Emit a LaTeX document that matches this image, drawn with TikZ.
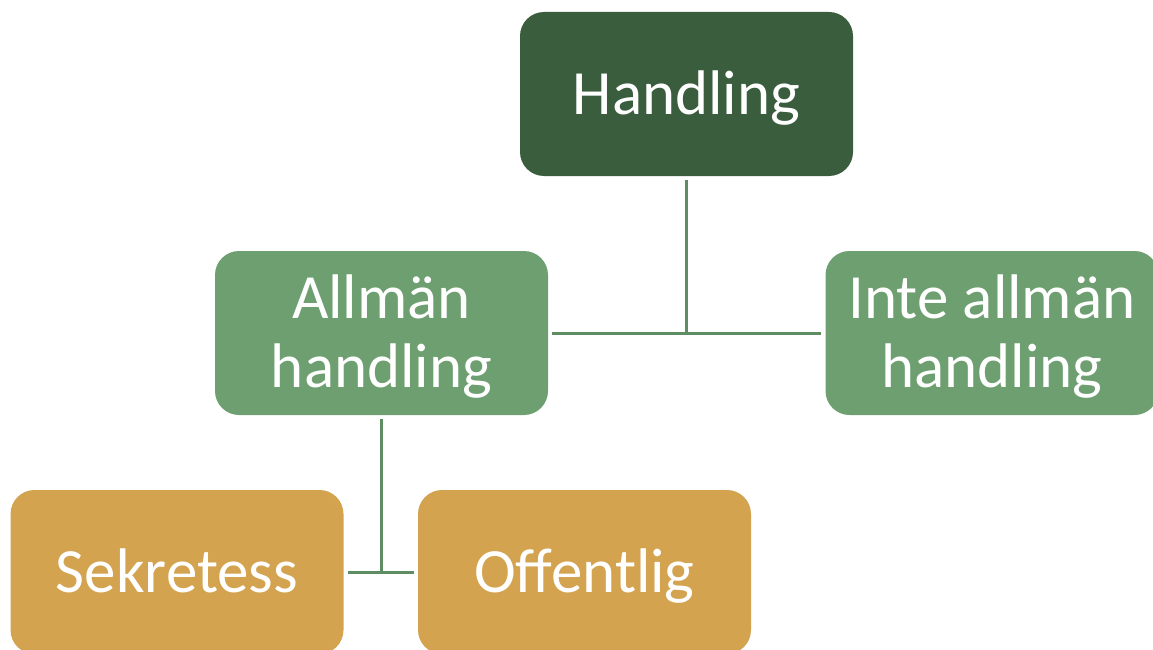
\documentclass[tikz,border=0pt]{standalone}
\usepackage{fontspec}
\setmainfont{Carlito}
\usepackage{xcolor}
\usepackage{tikz}

\definecolor{darkgreen}{HTML}{3A5E3D}
\definecolor{midgreen}{HTML}{6E9F70}
\definecolor{gold}{HTML}{D4A350}
\definecolor{linkgreen}{HTML}{5F8D63}

\begin{document}
\begin{tikzpicture}[
    x=1pt, y=-1pt,
    box/.style={rounded corners=24pt, minimum width=333pt, minimum height=164pt,
        inner sep=0pt, text=white, align=center, text height=40.5pt, text depth=0pt,
        font=\fontsize{63}{69}\selectfont},
    top/.style={box, fill=darkgreen},
    mid/.style={box, fill=midgreen, text height=109.5pt},
    low/.style={box, fill=gold},
    link/.style={draw=linkgreen, line width=3pt, shorten <=4pt, shorten >=4pt}
]
    \useasboundingbox (0,0) rectangle (1153,650);
    \clip (0,0) rectangle (1153,650);

    \node[top] (handling) at (686.5,94) {Handling};
    \node[mid] (allman) at (381.5,333) {Allmän\\handling};
    \node[mid] (inteallman) at (992,333) {Inte allmän\\handling};
    \node[low] (sekretess) at (177,572) {Sekretess};
    \node[low] (offentlig) at (584.5,572) {Offentlig};

    \draw[link, shorten >=0pt] (handling) -- (handling |- allman);
    \draw[link] (allman) -- (inteallman);
    \draw[link, shorten >=0pt] (allman) -- (allman |- sekretess);
    \draw[link] (sekretess) -- (offentlig);
\end{tikzpicture}
\end{document}
